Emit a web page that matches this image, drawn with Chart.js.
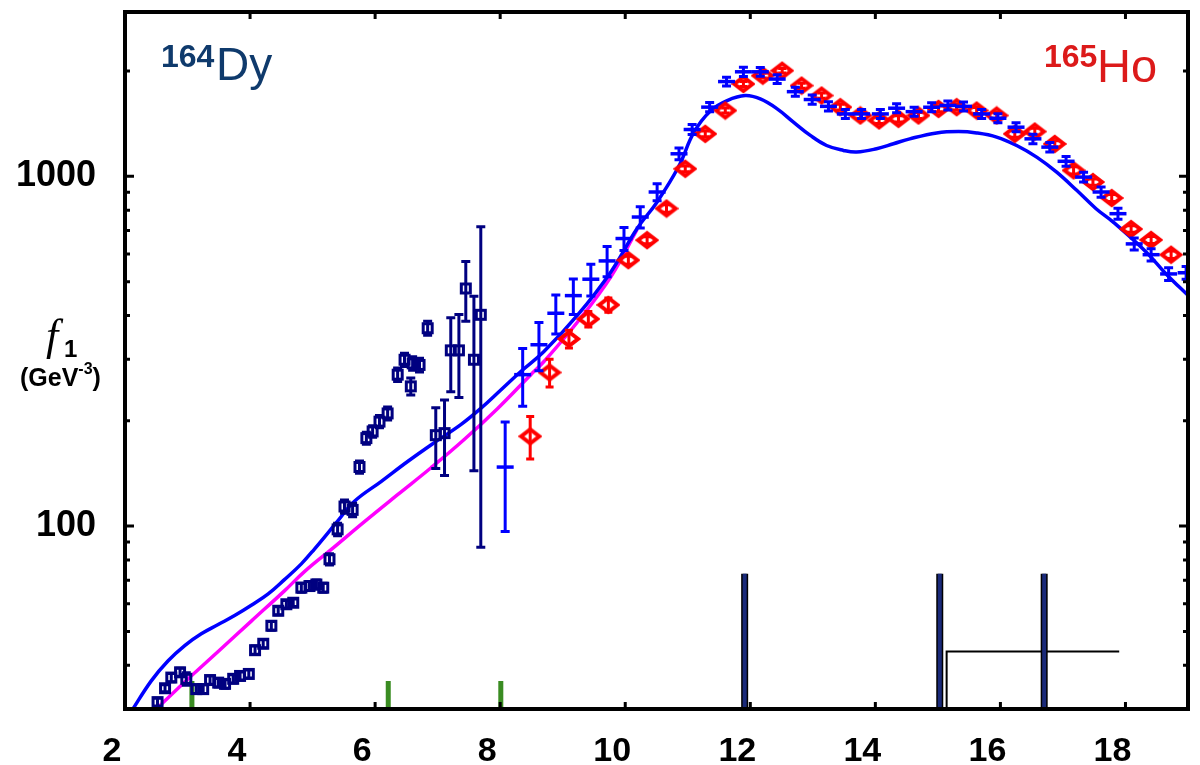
<!DOCTYPE html>
<html>
<head>
<meta charset="utf-8">
<script src="https://cdn.jsdelivr.net/npm/chart.js@4.4.0/dist/chart.umd.min.js"></script>
<style>
  html, body { margin: 0; padding: 0; background: #fff; }
  canvas { display: block; }
</style>
</head>
<body>
<canvas id="f1Chart" width="1200" height="765"></canvas>
<script>
// axis ticks
const xTicks = [2, 4, 6, 8, 10, 12, 14, 16, 18];
const yTicks = [30, 40, 50, 60, 70, 80, 90, 100, 200, 300, 400, 500, 600, 700, 800, 900, 1000, 2000];
const yLabels = [100, 1000];

// 164Dy low energy data (open squares)
const dyLowX = [2.52, 2.64, 2.74, 2.88, 2.98, 3.14, 3.25, 3.36, 3.49, 3.60, 3.73, 3.84, 3.98, 4.08, 4.21, 4.34, 4.45, 4.58, 4.69, 4.82, 4.95, 5.06, 5.17, 5.27, 5.40, 5.51, 5.64, 5.75, 5.86, 5.96, 6.07, 6.20, 6.36, 6.47, 6.57, 6.60, 6.71, 6.84, 6.97, 7.11, 7.21, 7.34, 7.45, 7.58, 7.69];
const dyLowY = [31.4, 34.4, 36.9, 38.2, 36.6, 34.2, 34.2, 36.3, 35.7, 35.4, 36.6, 37.3, 37.8, 44.2, 46.1, 51.9, 57.3, 59.8, 60.4, 66.7, 67.4, 68.1, 66.7, 80.4, 97.9, 113.8, 111.3, 147.6, 178.5, 186.5, 199, 210, 271, 299, 251, 292, 289, 368, 182, 184.5, 318, 318, 478, 299, 402];
const dyLowErr = [0.8, 0.8, 1, 1, 1.5, 1, 1, 1, 1, 1, 1, 1, 1, 1.2, 1.2, 1.5, 1.5, 1.5, 1.5, 2, 2, 2, 2, 3, 4, 5, 5, 6, 7, 7, 8, 9, 12, 13, 14, 13, 13, 17, 36, 45, 76, 85, 93, 155, 315];

// 164Dy data above threshold (crosses)
const dyX = [8.08, 8.36, 8.62, 8.89, 9.17, 9.45, 9.71, 9.98, 10.24, 10.51, 10.86, 11.07, 11.35, 11.62, 11.89, 12.16, 12.43, 12.72, 12.99, 13.25, 13.52, 13.78, 14.08, 14.34, 14.62, 14.90, 15.16, 15.41, 15.70, 15.96, 16.25, 16.52, 16.79, 17.05, 17.33, 17.61, 17.88, 18.14, 18.41, 18.69, 18.97];
const dyY = [147.5, 271, 330, 406, 456, 508, 573, 664, 765, 902, 1160, 1361, 1577, 1866, 1990, 1990, 1897, 1746, 1658, 1585, 1508, 1508, 1508, 1566, 1531, 1576, 1595, 1585, 1508, 1466, 1382, 1280, 1212, 1104, 995, 902, 782, 641, 597, 526, 530];
const dyErr = [51, 51, 52, 52, 53, 53, 57, 50, 53, 50, 45, 45, 48, 55, 60, 58, 55, 52, 50, 48, 45, 45, 45, 47, 46, 47, 48, 47, 45, 44, 42, 40, 38, 35, 32, 30, 28, 25, 24, 22, 22];

// 165Ho data (diamonds)
const hoX = [8.48, 8.79, 9.10, 9.41, 9.73, 10.05, 10.35, 10.66, 10.96, 11.28, 11.60, 11.89, 12.20, 12.51, 12.82, 13.14, 13.44, 13.76, 14.06, 14.37, 14.69, 15.01, 15.30, 15.62, 15.94, 16.23, 16.55, 16.87, 17.17, 17.48, 17.78, 18.09, 18.41, 18.73];
const hoY = [180.6, 275, 343, 391, 429, 576, 657, 809, 1051, 1323, 1542, 1837, 1940, 2005, 1817, 1702, 1577, 1493, 1445, 1460, 1493, 1559, 1577, 1542, 1493, 1323, 1343, 1238, 1040, 963, 867, 707, 658, 597];
const hoErr = [25, 25, 20, 20, 20, 15, 15, 20, 20, 25, 25, 30, 30, 30, 30, 30, 30, 30, 30, 30, 30, 30, 30, 30, 30, 30, 30, 25, 25, 20, 20, 15, 15, 15];

// fit curves
const fitX = [2.10, 2.42, 2.69, 2.96, 3.22, 3.49, 3.76, 4.02, 4.29, 4.55, 4.82, 5.03, 5.40, 5.67, 6.10, 6.52, 6.94, 7.37, 7.69, 8.01, 8.33, 8.70, 9.24, 9.77, 10.19, 10.51, 10.85, 11.10, 11.37, 11.63, 11.92, 12.16, 12.43, 12.69, 12.96, 13.22, 13.49, 13.70, 14.02, 14.29, 14.55, 14.98, 15.33, 15.62, 15.94, 16.26, 16.58, 16.90, 17.22, 17.53, 17.80, 18.33, 18.65, 19.02];
const fitY = [29.5, 36.1, 41.2, 45.6, 49.2, 52.3, 55.6, 59.4, 64.0, 70.3, 78.0, 86.0, 103.3, 117.8, 134.3, 153, 172.9, 195, 217, 245, 276.7, 315.6, 401.5, 533, 709, 845, 1063, 1337, 1542, 1647, 1702, 1664, 1559, 1429, 1309, 1225, 1186, 1173, 1199, 1239, 1280, 1331, 1343, 1331, 1295, 1225, 1135, 1028, 912, 808, 741, 608, 526, 453];
const lowFitX = [2.46, 2.96, 3.49, 4.02, 4.55, 4.87, 5.30, 5.83, 6.36, 6.89, 7.42, 7.96, 8.49, 8.70, 9.24, 9.77, 10.19];
const lowFitY = [29.5, 35.9, 43.8, 53.5, 65.3, 74.1, 85.8, 103, 123, 146.6, 176.5, 217, 271, 295.5, 384, 516, 705];

// markers at the bottom
const greenX = [3.07, 6.21, 8.01];
const greenTop = [36.1, 36.1, 36.1];
const navyX = [11.91, 15.03, 16.70];
const navyTop = [73.1, 73.1, 73.1];
const stepX = [15.14, 15.14, 17.90];
const stepY = [25, 43.8, 43.8];
const floorY = 25;

const toPoints = (xs, ys) => xs.map((x, i) => ({ x: x, y: ys[i] }));
const barPoints = (xs, tops) => {
    const pts = [];
    xs.forEach((x, i) => {
        pts.push({ x: x, y: floorY }, { x: x, y: tops[i] }, { x: x, y: null });
    });
    return pts;
};

// marker images
function squareMarker() {
    const c = document.createElement('canvas');
    c.width = 14; c.height = 14;
    const g = c.getContext('2d');
    g.strokeStyle = '#000080';
    g.lineWidth = 3;
    g.strokeRect(2.5, 2.5, 9, 9);
    return c;
}
function diamondMarker() {
    const c = document.createElement('canvas');
    c.width = 24; c.height = 20;
    const g = c.getContext('2d');
    g.strokeStyle = '#ff0000';
    g.lineWidth = 4;
    g.beginPath();
    g.moveTo(12, 3); g.lineTo(21, 10); g.lineTo(12, 17); g.lineTo(3, 10);
    g.closePath();
    g.stroke();
    return c;
}

// error bars drawn under each dataset's markers
const errorBars = {
    id: 'errorBars',
    beforeDatasetDraw(chart, args) {
        const ds = chart.data.datasets[args.index];
        if (!ds.errors) return;
        const xs = chart.scales.x, ys = chart.scales.y, ctx = chart.ctx, area = chart.chartArea;
        ctx.save();
        ctx.beginPath();
        ctx.rect(area.left, area.top, area.right - area.left, area.bottom - area.top);
        ctx.clip();
        ctx.strokeStyle = ds.borderColor;
        ctx.lineWidth = ds.errorWidth || 3;
        const cap = ds.capWidth || 4;
        ds.data.forEach((p, i) => {
            const e = ds.errors[i];
            const px = xs.getPixelForValue(p.x);
            const top = ys.getPixelForValue(p.y + e);
            const bot = ys.getPixelForValue(Math.max(p.y - e, 1));
            ctx.beginPath();
            ctx.moveTo(px, top); ctx.lineTo(px, bot);
            ctx.moveTo(px - cap, top); ctx.lineTo(px + cap, top);
            ctx.moveTo(px - cap, bot); ctx.lineTo(px + cap, bot);
            ctx.stroke();
        });
        ctx.restore();
    }
};

// frame with inward ticks
const frame = {
    id: 'frame',
    afterDatasetsDraw(chart) {
        const ctx = chart.ctx, a = chart.chartArea, xs = chart.scales.x, ys = chart.scales.y;
        ctx.save();
        ctx.strokeStyle = '#000';
        ctx.lineWidth = 3;
        ctx.beginPath();
        xTicks.slice(1).forEach(v => {
            const px = xs.getPixelForValue(v);
            ctx.moveTo(px, a.bottom); ctx.lineTo(px, a.bottom - 7);
            ctx.moveTo(px, a.top); ctx.lineTo(px, a.top + 7);
        });
        yTicks.slice(1).forEach(v => {
            const py = ys.getPixelForValue(v);
            const len = yLabels.includes(v) ? 9 : 5;
            ctx.moveTo(a.left, py); ctx.lineTo(a.left + len, py);
            ctx.moveTo(a.right, py); ctx.lineTo(a.right - len, py);
        });
        ctx.stroke();
        ctx.lineWidth = 4;
        ctx.strokeRect(a.left, a.top, a.right - a.left, a.bottom - a.top);
        ctx.restore();
    }
};

// element labels and the y axis title
const texts = {
    id: 'texts',
    afterDraw(chart) {
        const ctx = chart.ctx;
        ctx.save();
        ctx.textBaseline = 'alphabetic';
        ctx.textAlign = 'left';

        ctx.fillStyle = '#0f3a6c';
        ctx.font = 'bold 32px "Liberation Sans"';
        ctx.fillText('164', 161, 67);
        ctx.font = '46px "Liberation Sans"';
        ctx.fillText('Dy', 216, 80);

        ctx.fillStyle = '#dc1a1a';
        ctx.font = 'bold 32px "Liberation Sans"';
        ctx.fillText('165', 1044, 67);
        ctx.font = '47px "Liberation Sans"';
        ctx.fillText('Ho', 1097, 82);

        ctx.fillStyle = '#000';
        ctx.font = 'italic 44px "Liberation Serif"';
        ctx.fillText('f', 46, 350);
        ctx.font = 'bold 24px "Liberation Sans"';
        ctx.fillText('1', 64, 357);

        ctx.font = 'bold 25px "Liberation Sans"';
        let x = 20;
        ctx.fillText('(GeV', x, 386);
        x += ctx.measureText('(GeV').width;
        ctx.font = 'bold 16px "Liberation Sans"';
        ctx.fillText('-3', x, 374);
        x += ctx.measureText('-3').width;
        ctx.font = 'bold 25px "Liberation Sans"';
        ctx.fillText(')', x, 386);
        ctx.restore();
    }
};

// keep the plot area fixed: no extra room for half labels
const noPadding = scale => {
    scale.paddingTop = 0;
    scale.paddingBottom = 0;
    scale.paddingLeft = 0;
    scale.paddingRight = 0;
};

document.addEventListener('DOMContentLoaded', function() {
    Chart.defaults.font.family = '"Liberation Sans", Arial, sans-serif';
    const ctx = document.getElementById('f1Chart').getContext('2d');

    new Chart(ctx, {
        type: 'scatter',
        data: {
            datasets: [
                {
                    label: '164Dy low',
                    data: toPoints(dyLowX, dyLowY),
                    errors: dyLowErr,
                    borderColor: '#000080',
                    pointStyle: squareMarker(),
                    errorWidth: 3,
                    capWidth: 4.5,
                    order: 1
                },
                {
                    label: '165Ho',
                    data: toPoints(hoX, hoY),
                    errors: hoErr,
                    borderColor: '#ff0000',
                    pointStyle: diamondMarker(),
                    errorWidth: 3,
                    capWidth: 4,
                    order: 3
                },
                {
                    label: '164Dy',
                    data: toPoints(dyX, dyY),
                    errors: dyErr,
                    borderColor: '#0000ff',
                    pointStyle: 'line',
                    pointRadius: 8.5,
                    pointBorderWidth: 3.5,
                    errorWidth: 3,
                    capWidth: 4.5,
                    order: 2
                },
                {
                    label: 'fit',
                    data: toPoints(fitX, fitY),
                    showLine: true,
                    borderColor: '#0000ff',
                    borderWidth: 3.5,
                    pointRadius: 0,
                    tension: 0.4,
                    order: 5
                },
                {
                    label: 'low fit',
                    data: toPoints(lowFitX, lowFitY),
                    showLine: true,
                    borderColor: '#ff00ff',
                    borderWidth: 3.5,
                    pointRadius: 0,
                    tension: 0.4,
                    order: 6
                },
                {
                    label: 'green',
                    data: barPoints(greenX, greenTop),
                    showLine: true,
                    spanGaps: false,
                    borderColor: '#3a8c22',
                    borderWidth: 5,
                    pointRadius: 0,
                    order: 7
                },
                {
                    label: 'navy',
                    data: barPoints(navyX, navyTop),
                    showLine: true,
                    spanGaps: false,
                    borderColor: '#1a2a7a',
                    borderWidth: 4,
                    pointRadius: 0,
                    order: 8
                },
                {
                    label: 'navy edge',
                    data: barPoints(navyX, navyTop),
                    showLine: true,
                    spanGaps: false,
                    borderColor: '#000',
                    borderWidth: 7,
                    pointRadius: 0,
                    order: 9
                },
                {
                    label: 'step',
                    data: toPoints(stepX, stepY),
                    showLine: true,
                    borderColor: '#000',
                    borderWidth: 2,
                    pointRadius: 0,
                    order: 10
                }
            ]
        },
        options: {
            responsive: false,
            animation: false,
            layout: { padding: { top: 9, right: 7, left: 0, bottom: 0 } },
            plugins: {
                legend: { display: false },
                tooltip: { enabled: false }
            },
            scales: {
                x: {
                    type: 'linear',
                    min: 2,
                    max: 19,
                    afterBuildTicks: scale => { scale.ticks = xTicks.map(v => ({ value: v })); },
                    afterFit: scale => { scale.height = 56; noPadding(scale); },
                    grid: { display: false, drawTicks: false },
                    border: { display: false },
                    ticks: {
                        color: '#000',
                        font: { size: 34, weight: 'bold' },
                        padding: 22,
                        labelOffset: -13,
                        autoSkip: false,
                        maxRotation: 0
                    }
                },
                y: {
                    type: 'logarithmic',
                    min: 30,
                    max: 2950,
                    afterBuildTicks: scale => { scale.ticks = yTicks.map(v => ({ value: v })); },
                    afterFit: scale => { scale.width = 125; noPadding(scale); },
                    grid: { display: false, drawTicks: false },
                    border: { display: false },
                    ticks: {
                        color: '#000',
                        font: { size: 36, weight: 'bold' },
                        padding: 29,
                        autoSkip: false,
                        callback: v => yLabels.includes(v) ? String(v) : ''
                    }
                }
            }
        },
        plugins: [errorBars, frame, texts]
    });
});
</script>
</body>
</html>
